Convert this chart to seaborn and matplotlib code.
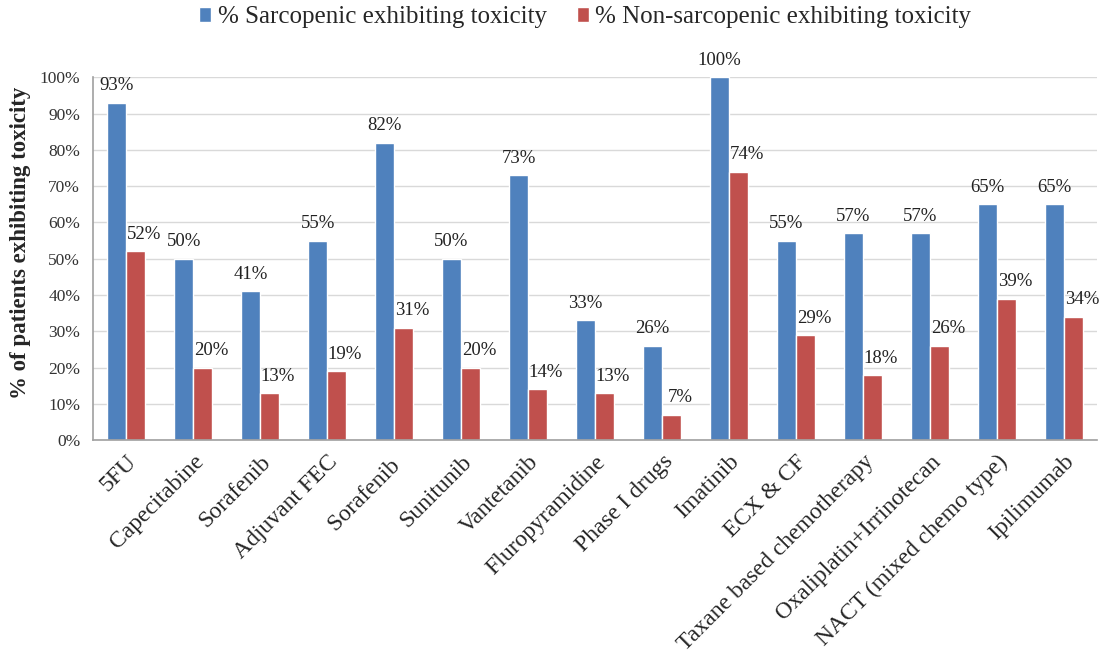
import matplotlib
matplotlib.use("Agg")
import matplotlib.pyplot as plt
import seaborn as sns
import pandas as pd
import numpy as np

categories = ["5FU", "Capecitabine", "Sorafenib", "Adjuvant FEC", "Sorafenib ",
              "Sunitunib", "Vantetanib", "Fluropyramidine", "Phase I drugs",
              "Imatinib", "ECX & CF", "Taxane based chemotherapy",
              "Oxaliplatin+Irrinotecan", "NACT (mixed chemo type)", "Ipilimumab"]
sarcopenic = [93, 50, 41, 55, 82, 50, 73, 33, 26, 100, 55, 57, 57, 65, 65]
non_sarcopenic = [52, 20, 13, 19, 31, 20, 14, 13, 7, 74, 29, 18, 26, 39, 34]
series_names = ["% Sarcopenic exhibiting toxicity",
                "% Non-sarcopenic exhibiting toxicity"]

df = pd.DataFrame({
    "drug": categories * 2,
    "value": sarcopenic + non_sarcopenic,
    "group": [series_names[0]] * len(categories) + [series_names[1]] * len(categories),
})

sns.set_style("white")
plt.rcParams["font.family"] = ["Liberation Serif", "DejaVu Serif"]

fig = plt.figure(figsize=(11.04, 6.55), dpi=100)
ax = fig.add_axes([0.084, 0.328, 0.910, 0.554])

palette = {series_names[0]: "#4F81BD", series_names[1]: "#C0504D"}
sns.barplot(data=df, x="drug", y="value", hue="group", order=categories,
            hue_order=series_names, palette=palette, width=0.57, gap=0,
            saturation=1, ax=ax, legend=True)

# value labels; the second series' labels sit a little to the right
for i, container in enumerate(ax.containers):
    anns = ax.bar_label(container,
                        labels=[f"{v:.0f}%" for v in container.datavalues],
                        padding=6, fontsize=13.5, color="#222222", clip_on=False)
    if i == 1:
        for a in anns:
            a.xyann = (6, 6)

n = len(categories)
ax.set_xlim(-0.5, n - 0.5)
ax.set_ylim(0, 100)
ax.set_yticks(np.arange(0, 101, 10))
ax.set_yticklabels([f"{t}%" for t in range(0, 101, 10)], fontsize=12.5,
                   color="#333333")
ax.yaxis.grid(True, color="#d9d9d9", linewidth=1)
ax.set_axisbelow(True)

ax.set_xticks(np.arange(n))
ax.set_xticklabels(categories, rotation=45, ha="right", rotation_mode="anchor",
                   fontsize=17)
ax.set_xticks(np.arange(-0.5, n, 1), minor=True)
ax.tick_params(axis="x", which="major", length=0, pad=8)
ax.tick_params(axis="x", which="minor", length=5, color="#a0a0a0", width=1)
ax.tick_params(axis="y", length=5, color="#a0a0a0", width=1, pad=4)

for side in ["top", "right"]:
    ax.spines[side].set_visible(False)
for side in ["left", "bottom"]:
    ax.spines[side].set_color("#a0a0a0")
    ax.spines[side].set_linewidth(1.2)

ax.set_xlabel("")
ax.set_ylabel("% of patients exhibiting toxicity", fontsize=16.5,
              fontweight="bold")
ax.yaxis.set_label_coords(-0.061, 0.545)

ax.legend(loc="center", bbox_to_anchor=(0.49, 1.165), ncol=2,
          frameon=False, fontsize=18, handlelength=0.5, handleheight=0.5,
          handletextpad=0.25, columnspacing=1.2, borderaxespad=0)

fig.savefig("out.png", dpi=100)
